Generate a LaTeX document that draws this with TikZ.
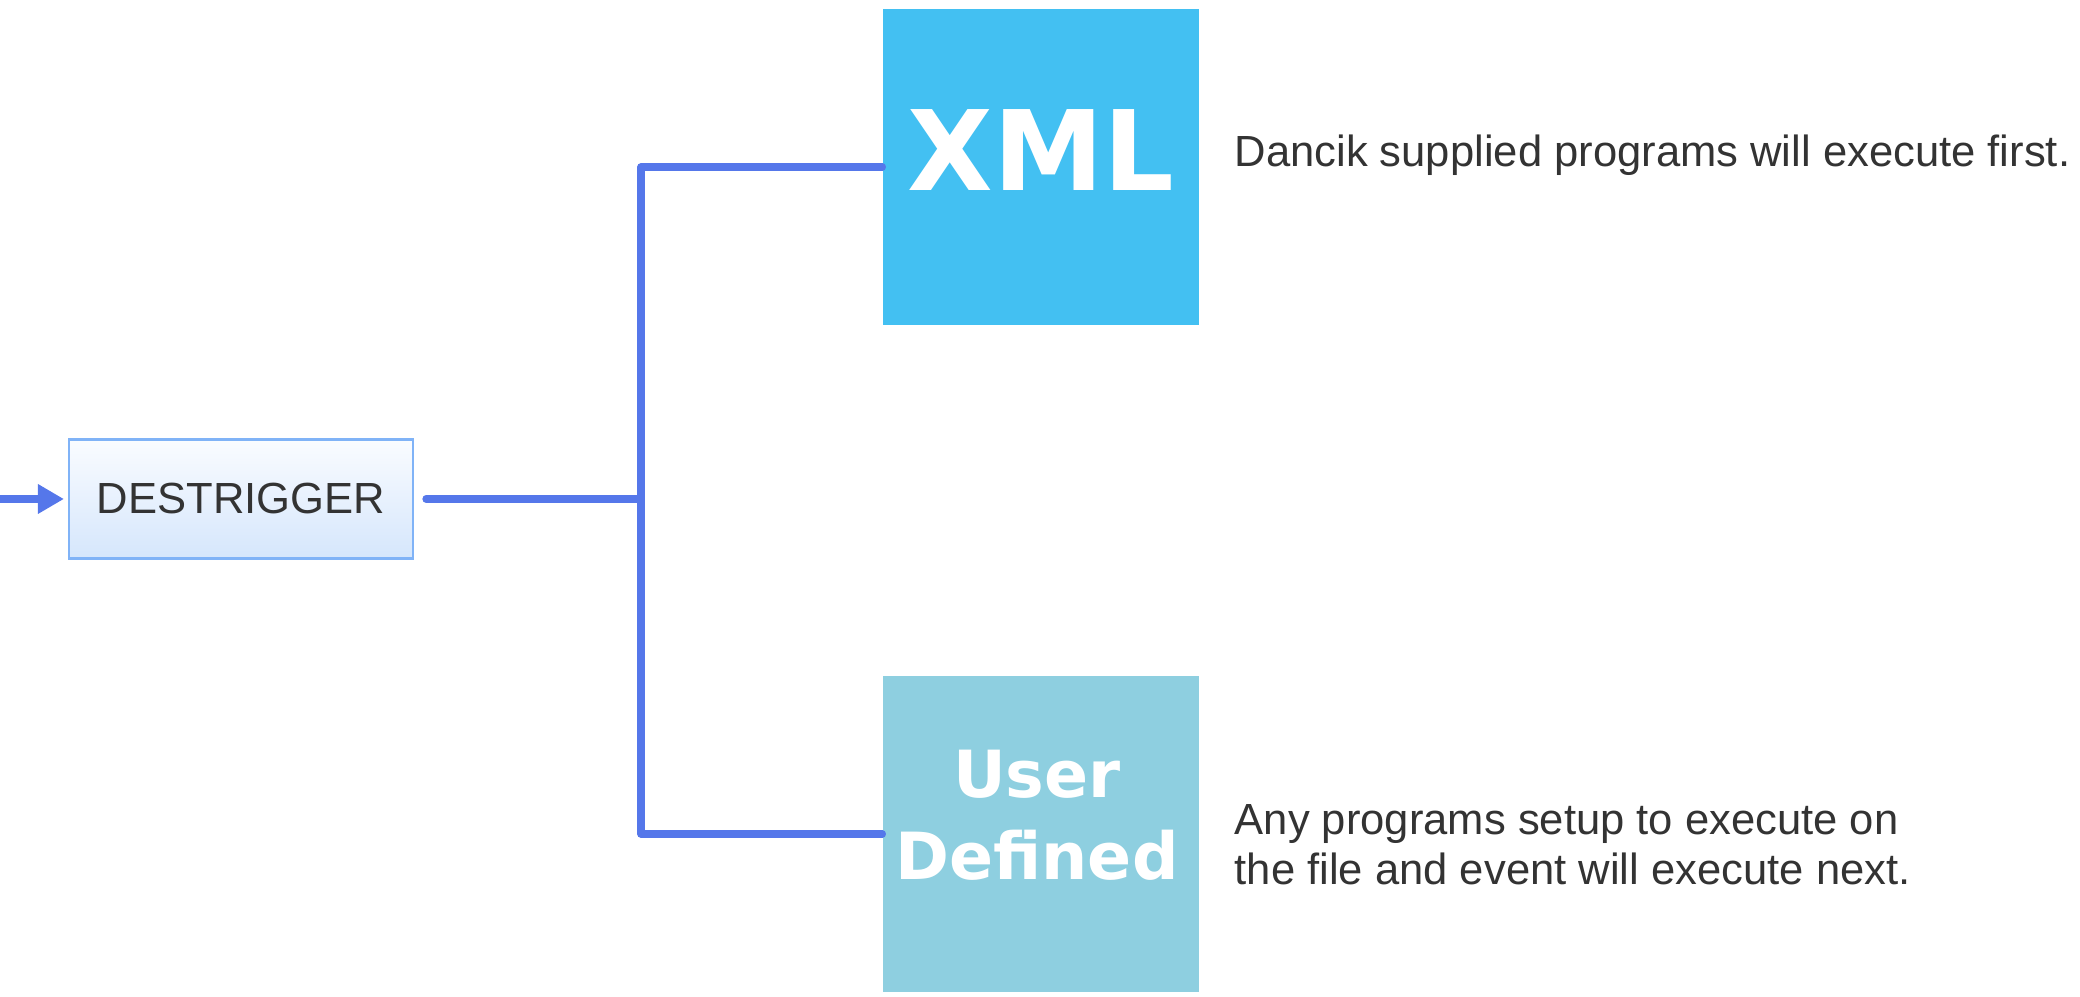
\documentclass[tikz,border=0pt]{standalone}
\usepackage{fontspec}
\setmainfont{Liberation Sans}
\newfontfamily\tilefont{DejaVu Sans}
\usetikzlibrary{arrows.meta}

\definecolor{wireBlue}{HTML}{5577EA}
\definecolor{xmlBlue}{HTML}{43C0F2}
\definecolor{userTeal}{HTML}{8ECFE0}
\definecolor{textGray}{HTML}{333333}
\definecolor{trigBorder}{HTML}{80B3F7}
\definecolor{trigTop}{HTML}{FAFCFF}
\definecolor{trigBottom}{HTML}{D5E6FC}

\begin{document}
\begin{tikzpicture}[
    font=\fontsize{12.4pt}{14.2pt}\selectfont,
    wire/.style={line width=2.1pt, wireBlue, line cap=round, line join=round},
    tile/.style={minimum width=3.16cm, minimum height=3.16cm, inner sep=0pt},
    tilelabel/.style={white, inner sep=0pt, align=center},
    note/.style={textGray, inner sep=0pt, align=left}
]
    \useasboundingbox (0,0) rectangle (20.8,-9.97);

    % Define coordinates for the connectors
    \coordinate (Feed) at (0,-4.99);
    \coordinate (Split) at (6.41,-4.99);

    % Trigger box
    \node[draw=trigBorder, line width=0.6pt, top color=trigTop, bottom color=trigBottom,
          minimum width=3.44cm, minimum height=1.19cm, inner sep=0pt, text=textGray]
          (Trigger) at (2.41,-4.99) {DESTRIGGER};

    % Tiles and their labels
    \node[tile, fill=xmlBlue] (XmlTile) at (10.41,-1.67) {};
    \node[tile, fill=userTeal] (UserTile) at (10.41,-8.34) {};
    \node[tilelabel, font=\tilefont\bfseries\fontsize{31.6pt}{36pt}\selectfont]
          (XmlLabel) at (10.41,-1.505) {XML};
    \node[tilelabel, font=\tilefont\bfseries\fontsize{18.5pt}{23.3pt}\selectfont]
          (UserLabel) at (10.37,-8.15) {User\\Defined};

    % Descriptions
    \node[note, anchor=base west] (XmlNote) at (12.34,-1.67)
          {Dancik supplied programs will execute first.};
    \node[note, anchor=west] (UserNote) at (12.34,-8.45)
          {Any programs setup to execute on\\the file and event will execute next.};

    % Connectors
    \draw[wire, -{Triangle[length=0.26cm,width=0.28cm]}, shorten >=0.04cm] (Feed) -- (Trigger.west);
    \draw[wire, shorten <=0.12cm] (Trigger.east) -- (Split);
    \draw[wire] (XmlTile.west) -| (Split) |- (UserTile.west);

\end{tikzpicture}
\end{document}
